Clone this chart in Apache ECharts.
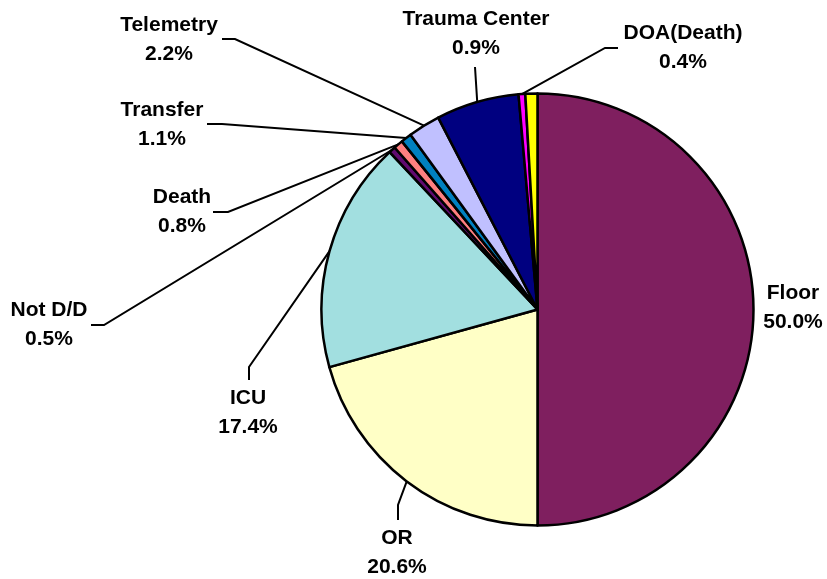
<!DOCTYPE html>
<html>
<head>
<meta charset="utf-8">
<script src="https://cdn.jsdelivr.net/npm/echarts@6/dist/echarts.min.js"></script>
<style>
	html,body{margin:0;padding:0;background:#fff;}
	#chart{width:827px;height:579px;}
</style>
</head>
<body>
<div id="chart"></div>
<script>
	// slice names, clockwise from 12 o'clock
	var categories = ['Floor','OR','ICU','Not D/D','Death','Transfer','Telemetry','Trauma Center','DOA(Death)',''];
	// slice sizes as drawn (%)
	var shares = [50.0, 20.7, 17.3, 0.5, 0.7, 0.8, 2.4, 6.2, 0.5, 0.9];
	// percentages printed on the labels
	var labelPct = ['50.0%','20.6%','17.4%','0.5%','0.8%','1.1%','2.2%','0.9%','0.4%',null];
	var colors = ['#7f1f5f','#ffffc6','#a2dfe0','#600a70','#ff8080','#0080c0','#c0c0ff','#000080','#ff00ff','#ffff00'];

	// label block centre, leader elbow, leader end (null = no leader, null elbow = straight)
	var labelPos = [
		{c:[793,308], line:null},
		{c:[397,553], line:[[398,505],[398,520]]},
		{c:[248,413], line:[[249,367],[249,380]]},
		{c:[49,325],  line:[[104,325],[91,325]]},
		{c:[182,212], line:[[228,212],[213,212]]},
		{c:[162,125], line:[[222,124],[207,124]]},
		{c:[169,40],  line:[[235,39],[222,39]]},
		{c:[476,34],  line:[null,[475,67]]},
		{c:[683,48],  line:[[605,48],[618,48]]},
		null
	];

	var chartData = categories.map(function(name,i){
		var item = {name:name, value:shares[i], itemStyle:{color:colors[i]}};
		if(!labelPct[i]){
			item.label = {show:false};
			item.labelLine = {show:false};
		}else if(!labelPos[i].line){
			item.labelLine = {show:false};
		}
		return item;
	});

	var option = {
		backgroundColor:'#fff',
		animation:false,
		series:[{
			type:'pie',
			center:[537.5,309.5],
			radius:216,
			startAngle:90,
			clockwise:true,
			avoidLabelOverlap:false,
			data:chartData,
			itemStyle:{borderColor:'#000',borderWidth:2.5},
			label:{
				show:true,
				position:'outside',
				color:'#000',
				fontFamily:'"Liberation Sans", Arial, sans-serif',
				fontWeight:'bold',
				fontSize:21,
				lineHeight:29,
				align:'center',
				formatter:function(p){
					return p.name + '\n' + labelPct[p.dataIndex];
				}
			},
			labelLine:{
				show:true,
				length:10,
				length2:10,
				lineStyle:{color:'#000',width:2}
			},
			labelLayout:function(params){
				var pos = labelPos[params.dataIndex];
				if(!pos) return {};
				var res = {x:pos.c[0], y:pos.c[1], align:'center', verticalAlign:'middle'};
				if(pos.line && params.labelLinePoints){
					var p0 = params.labelLinePoints[0];
					var end = pos.line[1];
					var mid = pos.line[0] || [(p0[0]+end[0])/2,(p0[1]+end[1])/2];
					res.labelLinePoints = [[p0[0],p0[1]], mid, end];
				}
				return res;
			}
		}]
	};

	var myChart = echarts.init(document.getElementById('chart'));
	myChart.setOption(option);
	//窗口变动，图表刷新
	window.addEventListener('resize',function(){myChart.resize();});
</script>
</body>
</html>
